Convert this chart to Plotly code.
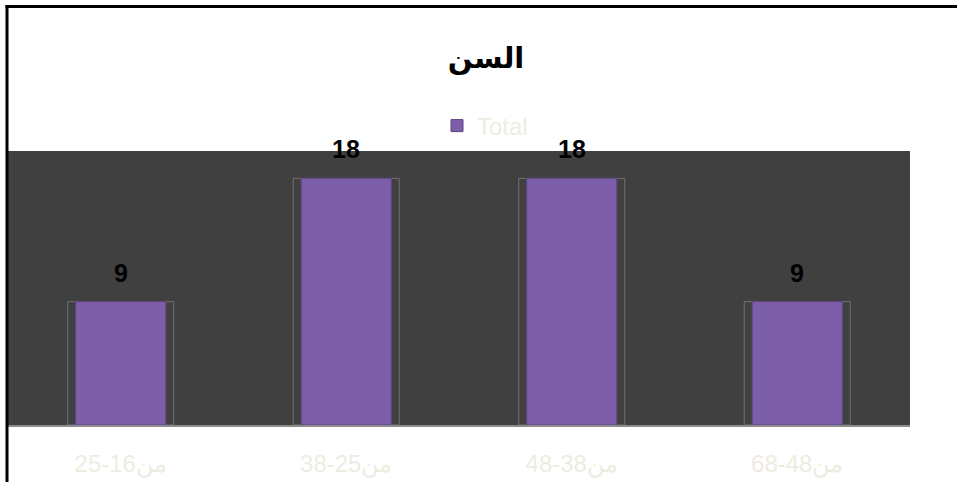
import plotly.graph_objects as go

categories = ["25-16من", "38-25من", "48-38من", "68-48من"]
values = [9, 18, 18, 9]
series_name = "Total"
title_text = "السن"

W, H = 957, 482
ML, MR, MT, MB = 8, 47, 151, 57
PW = W - ML - MR
PH = H - MT - MB

def px_x(x):
    return (x - ML) / PW

def px_y(y):
    return (H - MB - y) / PH

fig = go.Figure()

# shadow outline behind bars
fig.add_trace(go.Bar(
    x=categories, y=values, width=0.47,
    marker=dict(color="rgba(0,0,0,0)", line=dict(color="#707070", width=1)),
    showlegend=False, hoverinfo="skip",
))
fig.add_trace(go.Bar(
    x=categories, y=values, width=0.4, name=series_name,
    marker=dict(color="#7d5ea9", line=dict(color="#5e4482", width=1)),
))

annotations = []
for c, v in zip(categories, values):
    annotations.append(dict(
        x=c, y=v, xref="x", yref="y", text=str(v), showarrow=False,
        yanchor="bottom", yshift=13,
        font=dict(family="Liberation Sans Narrow, Liberation Sans, Arial, sans-serif", size=25, color="black", weight="bold"),
    ))

shapes = [
    dict(type="line", xref="paper", yref="paper",
         x0=px_x(7), x1=px_x(7), y0=px_y(5), y1=px_y(H + 2),
         line=dict(color="black", width=3)),
    dict(type="line", xref="paper", yref="paper",
         x0=px_x(5.5), x1=px_x(W + 2), y0=px_y(6.5), y1=px_y(6.5),
         line=dict(color="black", width=3)),
]

fig.update_layout(
    width=W, height=H,
    margin=dict(l=ML, r=MR, t=MT, b=MB, pad=0),
    paper_bgcolor="white", plot_bgcolor="#404040",
    barmode="overlay", bargap=0.6,
    title=dict(text=title_text, x=486 / W, xref="container", xanchor="center",
               y=1 - 58 / H, yref="container", yanchor="middle",
               font=dict(family="DejaVu Sans, sans-serif", size=29, color="black", weight="bold")),
    legend=dict(orientation="h", x=px_x(437), xanchor="left", y=px_y(126), yanchor="middle",
                font=dict(family="Liberation Sans Narrow, Liberation Sans, Arial, sans-serif", size=24, color="#eeece1"),
                bgcolor="rgba(0,0,0,0)"),
    xaxis=dict(showgrid=False, zeroline=False, showline=True, linecolor="#8c8c8c", linewidth=2,
               ticks="", ticklabelstandoff=16, automargin=False,
               tickfont=dict(family="Liberation Sans, Arial, sans-serif", size=24, color="#eeece1")),
    yaxis=dict(range=[0, 20], showgrid=False, zeroline=False, showticklabels=False, showline=False,
               automargin=False),
    annotations=annotations,
    shapes=shapes,
)

fig.write_html("out.html")
